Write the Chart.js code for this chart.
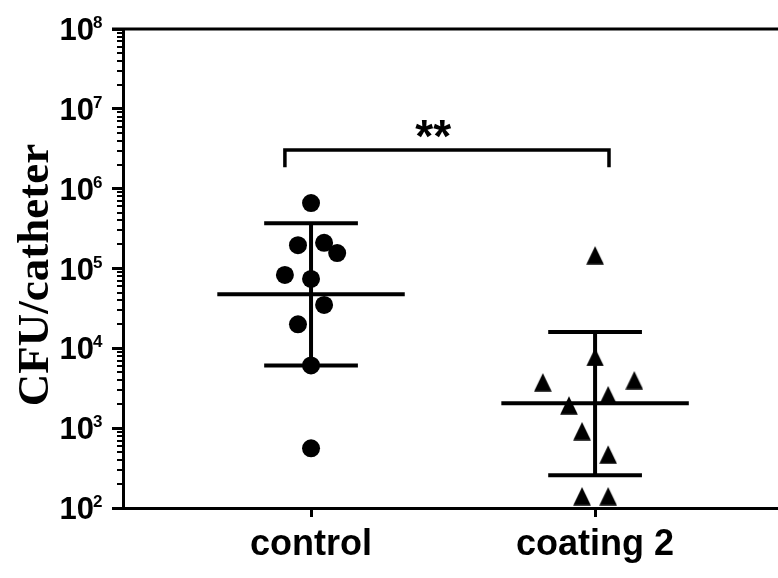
<!DOCTYPE html>
<html>
<head>
<meta charset="utf-8">
<script src="https://cdn.jsdelivr.net/npm/chart.js@4.4.1/dist/chart.umd.min.js"></script>
<style>
  html, body { margin: 0; padding: 0; background: #ffffff; }
  #wrap { width: 778px; height: 578px; position: relative; }
</style>
</head>
<body>
<div id="wrap"><canvas id="c" width="778" height="578"></canvas></div>
<script>
// ---- data ----
const categories = ['control', 'coating 2'];
const controlValues = [6.6e5, 1.96e5, 2.1e5, 1.56e5, 8.3e4, 7.4e4, 3.5e4, 2.0e4, 6.1e3, 5.6e2];
const controlJitter = [0, -1, 1, 2, -2, 0, 1, -1, 0, 0];
const coatingValues = [1.47e5, 7.8e3, 3.77e3, 4.0e3, 2.6e3, 1.94e3, 9.2e2, 4.7e2, 1.41e2, 1.41e2];
const coatingJitter = [0, 0, -4, 3, 1, -2, -1, 1, -1, 1];
const groupMeans = [4.77e4, 2.05e3];
const groupSdUpper = [3.7e5, 1.6e4];
const groupSdLower = [6.1e3, 2.58e2];
const yTickValues = [1e2, 1e3, 1e4, 1e5, 1e6, 1e7, 1e8];
const bracketX = [0.908, 2.049];
const bracketY = [1.86e6, 3.05e6];
const significanceLabel = '**';
const significancePos = { x: 1.43, y: 5.6e6 };

// ---- styling constants ----
const JIT = 0.046;
const MEAN_HALF = 0.33;
const CAP_HALF = 0.165;

function triangleImage() {
  const cv = document.createElement('canvas');
  cv.width = 18; cv.height = 19;
  const g = cv.getContext('2d');
  g.fillStyle = '#000';
  g.beginPath();
  g.moveTo(9, 0.5); g.lineTo(17.8, 18.8); g.lineTo(0.2, 18.8); g.closePath();
  g.fill();
  return cv;
}

const lineStyle = { type: 'line', showLine: true, borderColor: '#000', borderWidth: 4, pointRadius: 0, fill: false, borderCapStyle: 'butt' };
const errorSets = [];
groupMeans.forEach((m, i) => {
  const cx = i + 1;
  errorSets.push(Object.assign({ data: [{ x: cx - MEAN_HALF, y: m }, { x: cx + MEAN_HALF, y: m }] }, lineStyle));
  errorSets.push(Object.assign({ data: [{ x: cx - CAP_HALF, y: groupSdUpper[i] }, { x: cx + CAP_HALF, y: groupSdUpper[i] }] }, lineStyle));
  errorSets.push(Object.assign({ data: [{ x: cx - CAP_HALF, y: groupSdLower[i] }, { x: cx + CAP_HALF, y: groupSdLower[i] }] }, lineStyle));
  errorSets.push(Object.assign({ data: [{ x: cx, y: groupSdLower[i] }, { x: cx, y: groupSdUpper[i] }] }, lineStyle));
});
const bracketSet = Object.assign({}, lineStyle, {
  borderWidth: 3.5, borderJoinStyle: 'miter',
  data: [{ x: bracketX[0], y: bracketY[0] }, { x: bracketX[0], y: bracketY[1] }, { x: bracketX[1], y: bracketY[1] }, { x: bracketX[1], y: bracketY[0] }]
});

const decor = {
  id: 'decor',
  afterDraw(chart) {
    const ctx = chart.ctx;
    const y = chart.scales.y, x = chart.scales.x;
    const ca = chart.chartArea;
    ctx.save();
    ctx.fillStyle = '#000';
    ctx.strokeStyle = '#000';
    // top border line
    ctx.lineWidth = 3;
    ctx.beginPath();
    ctx.moveTo(ca.left - 11, ca.top);
    ctx.lineTo(ca.right, ca.top);
    ctx.stroke();
    // minor ticks
    ctx.lineWidth = 2;
    for (let k = 2; k < 8; k++) {
      for (let m = 2; m <= 9; m++) {
        const py = Math.round(y.getPixelForValue(m * Math.pow(10, k)));
        ctx.beginPath();
        ctx.moveTo(ca.left - 6, py);
        ctx.lineTo(ca.left, py);
        ctx.stroke();
      }
    }
    // tick labels 10^n
    y.ticks.forEach(t => {
      const py = y.getPixelForValue(t.value);
      const exp = Math.round(Math.log10(t.value));
      ctx.font = 'bold 31px "Liberation Sans", Arial, sans-serif';
      ctx.textAlign = 'right';
      ctx.textBaseline = 'alphabetic';
      ctx.fillText('10', 94, py + 11);
      ctx.font = 'bold 17px "Liberation Sans", Arial, sans-serif';
      ctx.textAlign = 'left';
      ctx.fillText(String(exp), 93, py - 1);
    });
    // y title
    ctx.save();
    ctx.translate(48, 275);
    ctx.rotate(-Math.PI / 2);
    ctx.font = 'bold 45px "Liberation Serif", "Times New Roman", serif';
    ctx.textAlign = 'center';
    ctx.textBaseline = 'alphabetic';
    ctx.fillText('CFU/catheter', 0, 0);
    ctx.restore();
    // significance
    ctx.font = 'bold 46px "Liberation Sans", Arial, sans-serif';
    ctx.textAlign = 'center';
    ctx.textBaseline = 'middle';
    ctx.fillText(significanceLabel, x.getPixelForValue(significancePos.x), y.getPixelForValue(significancePos.y) + 10);
    ctx.restore();
  }
};

new Chart(document.getElementById('c'), {
  type: 'scatter',
  data: {
    datasets: [
      {
        data: controlValues.map((v, i) => ({ x: 1 + controlJitter[i] * JIT, y: v })),
        pointStyle: 'circle', pointRadius: 9, pointBackgroundColor: '#000', pointBorderColor: '#000', pointBorderWidth: 0
      },
      {
        data: coatingValues.map((v, i) => ({ x: 2 + coatingJitter[i] * JIT, y: v })),
        pointStyle: triangleImage(), pointRadius: 9, pointBackgroundColor: '#000', pointBorderColor: '#000'
      },
      ...errorSets,
      bracketSet
    ]
  },
  options: {
    responsive: false,
    animation: false,
    layout: { autoPadding: false, padding: { top: 29, right: 0, left: 0, bottom: 0 } },
    plugins: { legend: { display: false }, tooltip: { enabled: false } },
    scales: {
      x: {
        type: 'linear',
        min: 0.338, max: 2.644,
        afterBuildTicks: s => { s.ticks = categories.map((c, i) => ({ value: i + 1 })); },
        afterFit: s => { s.height = 70; s.paddingLeft = 0; s.paddingRight = 0; },
        ticks: {
          callback: (v) => categories[Math.round(v) - 1] || '',
          color: '#000',
          font: { family: '"Liberation Sans", Arial, sans-serif', size: 36, weight: 'bold' },
          padding: 6, maxRotation: 0, autoSkip: false
        },
        grid: { display: true, drawOnChartArea: false, drawTicks: true, tickLength: 9, tickWidth: 3, tickColor: '#000' },
        border: { display: true, color: '#000', width: 3 }
      },
      y: {
        type: 'logarithmic',
        min: 1e2, max: 1e8,
        afterBuildTicks: s => { s.ticks = yTickValues.map(v => ({ value: v, major: true })); },
        afterFit: s => { s.width = 123; s.paddingTop = 0; s.paddingBottom = 0; },
        ticks: { display: false },
        grid: { display: true, drawOnChartArea: false, drawTicks: true, tickLength: 11, tickWidth: 3, tickColor: '#000' },
        border: { display: true, color: '#000', width: 3 }
      }
    }
  },
  plugins: [decor]
});
</script>
</body>
</html>
